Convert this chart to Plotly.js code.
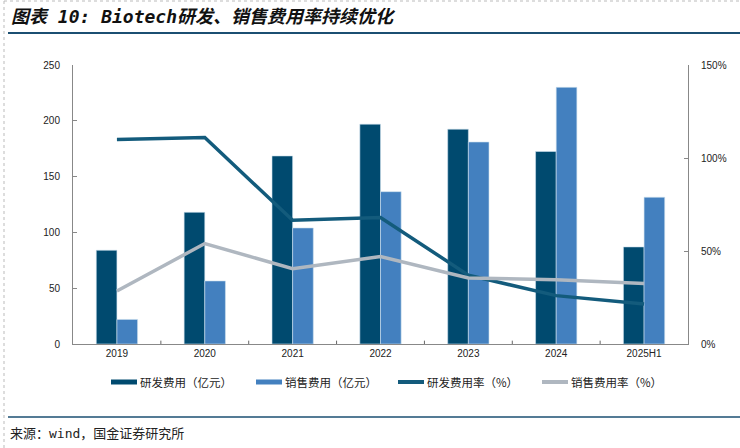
<!DOCTYPE html>
<html><head><meta charset="utf-8">
<script src="https://cdn.plot.ly/plotly-3.0.1.min.js"></script>
<style>html,body{margin:0;padding:0;background:#fff}#c{width:740px;height:448px}</style>
</head><body><div id="c"></div>
<script>
const categories = ['2019','2020','2021','2022','2023','2024','2025H1'];
const rdExpense = [84, 118, 168.5, 197, 192.5, 172.5, 87];
const salesExpense = [22, 56.5, 104, 136.5, 181, 230, 131.5];
const rdRate = [110, 111, 66.5, 68, 37, 26, 21.5];
const salesRate = [28.5, 54, 40.5, 47, 35.5, 34.5, 32.5];
const leftTicks = [0, 50, 100, 150, 200, 250];
const rightTicks = [0, 50, 100, 150];
const rightTickText = ['0%', '50%', '100%', '150%'];
const seriesNames = ['研发费用（亿元）', '销售费用（亿元）', '研发费用率（%）', '销售费用率（%）'];
const seriesColors = ['#004a6f', '#4380bf', '#135b7c', '#afb7c0'];

const L = 73, R = 688, T = 65, B = 344;
const px = x => (x - L) / (R - L);
const py = y => (B - y) / (B - T);

const cjk = '"Noto Sans CJK SC", "Liberation Sans", Arial, sans-serif';
const traces = [
  {type:'bar', name:seriesNames[0], x:categories, y:rdExpense,
   marker:{color:seriesColors[0], line:{color:'#cfe0ef', width:0.6}}},
  {type:'bar', name:seriesNames[1], x:categories, y:salesExpense,
   marker:{color:seriesColors[1], line:{color:'#cfe0ef', width:0.6}}},
  {type:'scatter', mode:'lines', name:seriesNames[2], x:categories, y:rdRate, yaxis:'y2',
   line:{color:seriesColors[2], width:3.5}},
  {type:'scatter', mode:'lines', name:seriesNames[3], x:categories, y:salesRate, yaxis:'y2',
   line:{color:seriesColors[3], width:3.5}}
];

// custom legend (wide flat swatches as in the reference)
const legX = [111, 256, 398, 542];
const legY = 382;
const legShapes = [], legAnn = [];
legX.forEach((x0, i) => {
  if (i < 2) {
    legShapes.push({type:'rect', xref:'paper', yref:'paper', x0:px(x0), x1:px(x0+26), y0:py(legY-2.5), y1:py(legY+2.5),
      fillcolor:seriesColors[i], line:{width:0}});
  } else {
    legShapes.push({type:'line', xref:'paper', yref:'paper', x0:px(x0), x1:px(x0+26), y0:py(legY), y1:py(legY),
      line:{color:seriesColors[i], width:4}});
  }
  legAnn.push({xref:'paper', yref:'paper', x:px(x0+27), y:py(legY), xanchor:'left', yanchor:'middle', showarrow:false,
    text:seriesNames[i], font:{family:cjk, size:11.5, color:'#222'}});
});

const layout = {
  width:740, height:448,
  margin:{l:L, r:740-R, t:T, b:448-B, pad:0},
  paper_bgcolor:'#fff', plot_bgcolor:'#fff',
  barmode:'group', bargap:0.53, bargroupgap:0,
  font:{family:'"Liberation Sans", Arial, sans-serif', size:10, color:'#222'},
  showlegend:false,
  xaxis:{type:'category', showline:true, linecolor:'#888', linewidth:1,
    ticks:'', tickfont:{size:10, color:'#222'}, showgrid:false, zeroline:false,
    range:[-0.5, 6.5], fixedrange:true},
  yaxis:{range:[0,250], tickvals:leftTicks, showline:true, linecolor:'#888', linewidth:1,
    ticks:'inside', ticklen:4, tickcolor:'#888', showgrid:false, zeroline:false,
    tickfont:{size:10, color:'#222'}, ticklabelstandoff:10},
  yaxis2:{range:[0,150], overlaying:'y', side:'right', tickvals:rightTicks, ticktext:rightTickText,
    showline:true, linecolor:'#888', linewidth:1, ticks:'inside', ticklen:4, tickcolor:'#888',
    showgrid:false, zeroline:false, tickfont:{size:10, color:'#222'}, ticklabelstandoff:10},
  shapes:[
    {type:'line', xref:'paper', yref:'paper', x0:px(4), x1:px(740), y0:py(1), y1:py(1), line:{color:'#bbb', width:1, dash:'dot'}},
    {type:'line', xref:'paper', yref:'paper', x0:px(4), x1:px(4), y0:py(1), y1:py(448), line:{color:'#bbb', width:1, dash:'dot'}},
    {type:'line', xref:'paper', yref:'paper', x0:px(8), x1:px(740), y0:py(33), y1:py(33), line:{color:'#1b4f72', width:2}},
    {type:'line', xref:'paper', yref:'paper', x0:px(8), x1:px(740), y0:py(417), y1:py(417), line:{color:'#1b4f72', width:1.5}}
  ].concat([0.5,1.5,2.5,3.5,4.5,5.5].map(v => ({type:'line', xref:'x', yref:'paper', x0:v, x1:v, y0:0, y1:0.012, line:{color:'#666', width:1}})))
   .concat(legShapes),
  annotations:[
    {xref:'paper', yref:'paper', x:px(9), y:py(17), xanchor:'left', yanchor:'middle', showarrow:false,
     text:'<b><i>图表 10: Biotech研发、销售费用率持续优化</i></b>',
     font:{family:'"DejaVu Sans Mono", "Noto Sans CJK SC", serif', size:18, color:'#111'}},
    {xref:'paper', yref:'paper', x:px(8), y:py(433), xanchor:'left', yanchor:'middle', showarrow:false,
     text:'来源：wind，国金证券研究所',
     font:{family:'"DejaVu Sans Mono", "Noto Sans CJK SC", serif', size:13, color:'#222'}}
  ].concat(legAnn)
};
Plotly.newPlot('c', traces, layout, {staticPlot:true, displayModeBar:false});
</script></body></html>
